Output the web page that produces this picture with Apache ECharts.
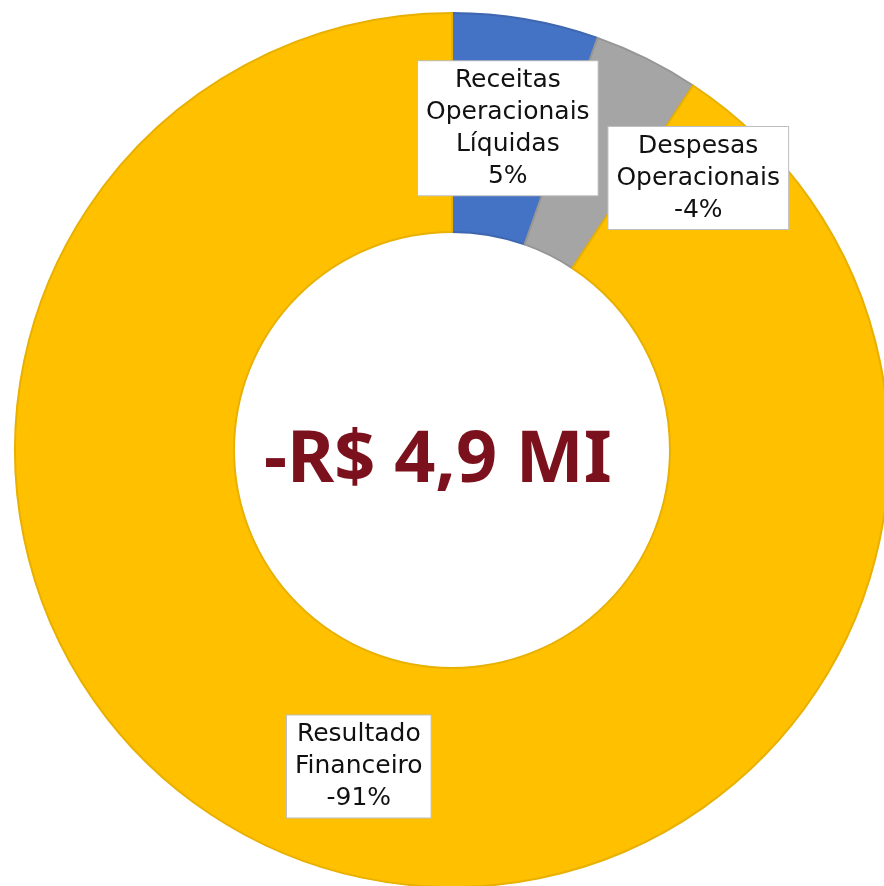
<!DOCTYPE html>
<html>
<head>
<meta charset="utf-8">
<script src="https://cdn.jsdelivr.net/npm/echarts@6/dist/echarts.min.js"></script>
<style>
  html, body { margin: 0; padding: 0; background: #fff; }
  #chart { width: 884px; height: 886px; }
</style>
</head>
<body>
<div id="chart"></div>
<script>
// share of the result, sign kept for the label
const categories = ["Receitas\nOperacionais\nLíquidas", "Despesas\nOperacionais", "Resultado\nFinanceiro"]
const values = [5.4, -3.9, -90.7]
const colors = ["#4472C4", "#A5A5A5", "#FFC000"]
const borders = ["#3F67B0", "#969696", "#E8B000"]
const centerText = "-R$ 4,9 MI"

// label nudges so the callouts sit where the reference has them
const labelOffsets = [[0, 4], [99, 24], [2, 0]]

const chart = echarts.init(document.getElementById("chart"))

const data = categories.map((name, i) => ({
  name: name,
  value: Math.abs(values[i]),
  itemStyle: { color: colors[i], borderColor: borders[i], borderWidth: 2 },
  label: { offset: labelOffsets[i] },
}))

const option = {
  animation: false,
  title: {
    text: centerText,
    left: 259,
    top: 420,
    textStyle: {
      fontFamily: "Noto Sans",
      fontWeight: "bold",
      fontSize: 72,
      color: "#7B111C",
    },
  },
  series: [
    {
      type: "pie",
      center: [452, 450],
      radius: [218, 437],
      startAngle: 90,
      clockwise: true,
      avoidLabelOverlap: false,
      data: data,
      label: {
        show: true,
        position: "inside",
        formatter: (p) => p.name + "\n" + Math.round(values[p.dataIndex]) + "%",
        fontFamily: "DejaVu Sans",
        fontSize: 25,
        lineHeight: 32,
        color: "#111",
        align: "center",
        backgroundColor: "#fff",
        borderColor: "#BFBFBF",
        borderWidth: 1,
        padding: [3, 8, 3, 8],
      },
      labelLine: { show: false },
      emphasis: { disabled: true },
    },
  ],
}

chart.setOption(option)
</script>
</body>
</html>
